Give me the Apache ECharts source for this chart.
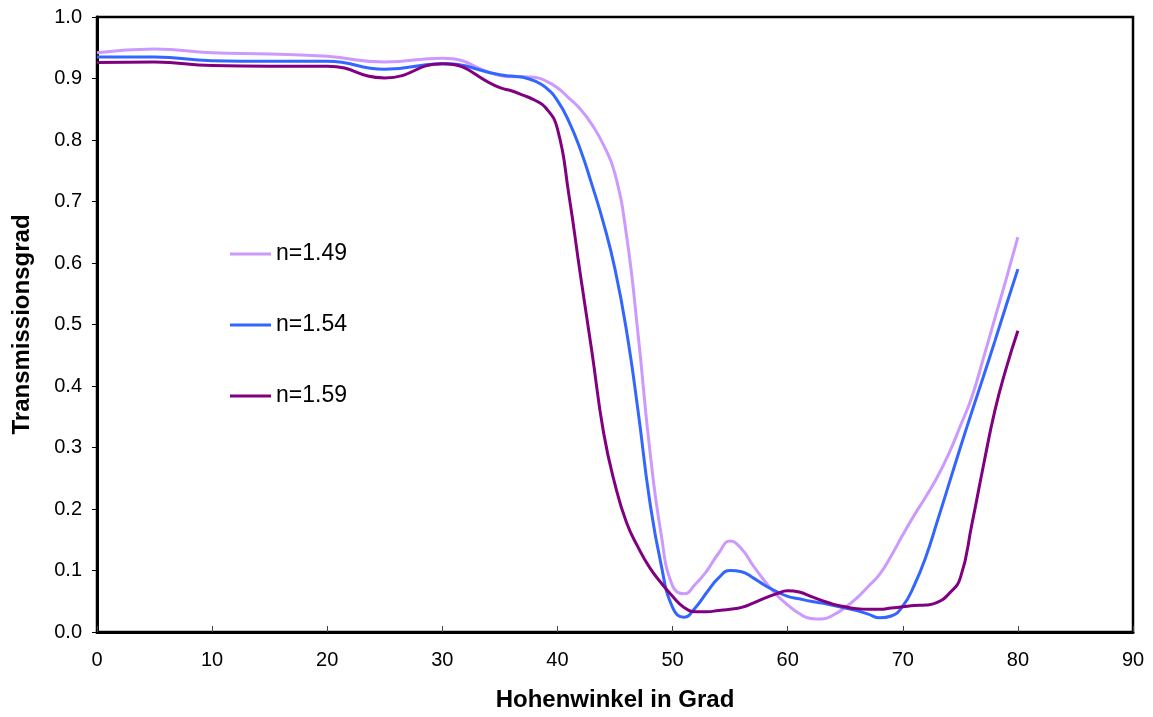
<!DOCTYPE html>
<html>
<head>
<meta charset="utf-8">
<script src="https://cdn.jsdelivr.net/npm/echarts@6/dist/echarts.min.js"></script>
<style>
  html, body { margin: 0; padding: 0; background: #fff; }
  #chart { width: 1153px; height: 717px; }
</style>
</head>
<body>
<div id="chart"></div>
<script>
// Elevation angle in degrees (shared by all three curves)
const angles = [0, 5, 10, 15, 20, 25, 30, 35,
  36, 37, 38, 39, 40, 41, 42, 43, 44, 45, 46, 47, 48, 49, 50,
  51, 52, 53, 54, 55, 56, 57, 58, 59, 60, 61, 62, 63, 64, 65,
  66, 67, 68, 69, 70, 71, 72, 73, 74, 75, 76, 77, 78, 79, 80];

// Transmittance for refractive index n = 1.49
const t149 = [0.942, 0.948, 0.942, 0.940, 0.936, 0.927, 0.933, 0.905,
  0.903, 0.903, 0.902, 0.896, 0.885, 0.868, 0.850, 0.825, 0.792, 0.745, 0.645, 0.485, 0.300, 0.160, 0.075,
  0.062, 0.078, 0.100, 0.128, 0.148, 0.135, 0.108, 0.083, 0.061, 0.044, 0.030, 0.022, 0.021, 0.028, 0.040,
  0.055, 0.074, 0.094, 0.124, 0.158, 0.190, 0.220, 0.252, 0.290, 0.335, 0.382, 0.445, 0.510, 0.575, 0.642];

// Transmittance for n = 1.54
const t154 = [0.935, 0.935, 0.929, 0.928, 0.928, 0.915, 0.924, 0.906,
  0.904, 0.902, 0.896, 0.885, 0.864, 0.830, 0.784, 0.727, 0.665, 0.590, 0.490, 0.360, 0.215, 0.110, 0.040,
  0.024, 0.040, 0.065, 0.088, 0.100, 0.098, 0.088, 0.076, 0.066, 0.058, 0.054, 0.050, 0.047, 0.043, 0.039,
  0.035, 0.029, 0.023, 0.026, 0.042, 0.076, 0.122, 0.180, 0.240, 0.300, 0.358, 0.415, 0.473, 0.532, 0.590];

// Transmittance for n = 1.59
const t159 = [0.926, 0.927, 0.921, 0.920, 0.920, 0.901, 0.924, 0.885,
  0.880, 0.873, 0.865, 0.852, 0.818, 0.710, 0.580, 0.455, 0.325, 0.240, 0.178, 0.138, 0.105, 0.080, 0.058,
  0.040, 0.033, 0.033, 0.035, 0.037, 0.040, 0.047, 0.055, 0.062, 0.067, 0.065, 0.058, 0.051, 0.045, 0.041,
  0.038, 0.037, 0.037, 0.039, 0.041, 0.043, 0.044, 0.048, 0.062, 0.088, 0.175, 0.270, 0.360, 0.430, 0.490];

const seriesNames = ['n=1.49', 'n=1.54', 'n=1.59'];
const seriesColors = ['#cc99ff', '#3366ff', '#800080'];
const seriesValues = [t149, t154, t159];

const font = 'Liberation Sans, Arial, sans-serif';

const chart = echarts.init(document.getElementById('chart'), null, { renderer: 'canvas' });

chart.setOption({
  animation: false,
  backgroundColor: '#ffffff',
  grid: {
    left: 97, right: 20, top: 17, bottom: 83,
    show: true, borderColor: '#000', borderWidth: 2.5, backgroundColor: 'transparent'
  },
  legend: {
    left: 230, top: 242, orient: 'vertical', itemGap: 47, padding: 0,
    itemWidth: 41, itemHeight: 24,
    textStyle: { fontFamily: font, fontSize: 23, lineHeight: 24, color: '#000' },
    data: seriesNames.map(n => ({ name: n, icon: 'path://M0,0L41,0L41,3L0,3Z' }))
  },
  xAxis: {
    type: 'value', min: 0, max: 90, interval: 10,
    name: 'Hohenwinkel in Grad', nameLocation: 'middle', nameGap: 56,
    nameTextStyle: { fontFamily: font, fontSize: 24, fontWeight: 'bold', color: '#000' },
    axisLine: { show: true, lineStyle: { color: '#000', width: 3 } },
    axisTick: { show: true, inside: true, length: 6, lineStyle: { color: '#444', width: 1 } },
    axisLabel: { fontFamily: font, fontSize: 20, color: '#000', margin: 18 },
    splitLine: { show: false }
  },
  yAxis: {
    type: 'value', min: 0, max: 1, interval: 0.1,
    name: 'Transmissionsgrad', nameLocation: 'middle', nameGap: 63,
    nameTextStyle: { fontFamily: font, fontSize: 24, fontWeight: 'bold', color: '#000' },
    axisLine: { show: true, lineStyle: { color: '#000', width: 3 } },
    axisTick: { show: true, inside: false, length: 5, lineStyle: { color: '#000', width: 1 } },
    axisLabel: { fontFamily: font, fontSize: 20, color: '#000', margin: 15, formatter: v => v.toFixed(1) },
    splitLine: { show: false }
  },
  series: seriesNames.map((name, i) => ({
    name: name,
    type: 'line',
    smooth: 0.5,
    symbol: 'none',
    lineStyle: { color: seriesColors[i], width: 3 },
    itemStyle: { color: seriesColors[i] },
    data: angles.map((a, k) => [a, seriesValues[i][k]])
  }))
});
</script>
</body>
</html>
